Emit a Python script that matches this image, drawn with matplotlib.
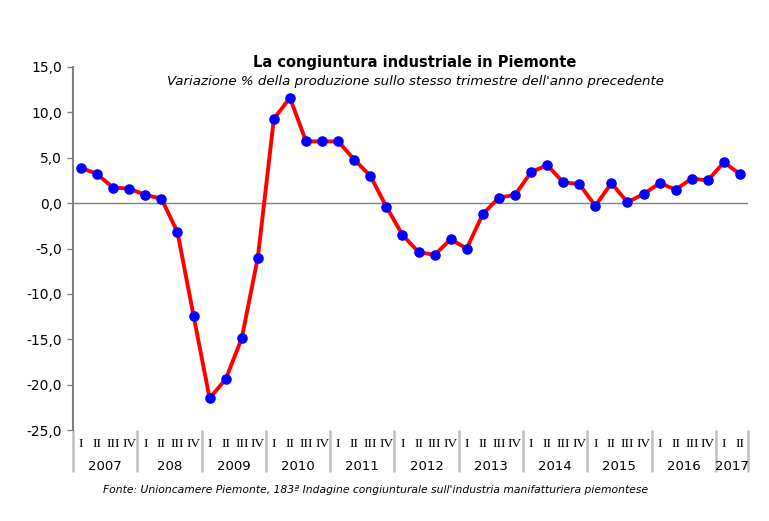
import matplotlib.pyplot as plt
import matplotlib.transforms as mtransforms

# dati trimestrali (variazione %)
years = ["2007", "208", "2009", "2010", "2011", "2012", "2013", "2014", "2015", "2016", "2017"]
quarters_per_year = [4, 4, 4, 4, 4, 4, 4, 4, 4, 4, 2]
quarter_names = ["I", "II", "III", "IV"]
values = [3.9, 3.2, 1.7, 1.6,
          0.9, 0.5, -3.2, -12.4,
          -21.5, -19.4, -14.9, -6.0,
          9.3, 11.6, 6.8, 6.8,
          6.8, 4.8, 3.0, -0.4,
          -3.5, -5.4, -5.7, -4.0,
          -5.0, -1.2, 0.6, 0.9,
          3.4, 4.2, 2.3, 2.1,
          -0.3, 2.2, 0.1, 1.0,
          2.2, 1.5, 2.7, 2.5,
          4.5, 3.2]

tick_labels = []
for n in quarters_per_year:
    tick_labels += quarter_names[:n]
x = list(range(len(values)))

fig = plt.figure(figsize=(7.69, 5.21), dpi=100)
ax = fig.add_axes([73 / 769, (521 - 430) / 521, (748 - 73) / 769, (430 - 67) / 521])

ax.axhline(0, color="#808080", lw=1, zorder=1)
ax.plot(x, values, color="#ff0000", lw=2.8, marker="o", markersize=6.6,
        markerfacecolor="#0000ff", markeredgecolor="#0000ff", zorder=3)

ax.set_xlim(-0.5, len(values) - 0.5)
ax.set_ylim(-25, 15)
yt = list(range(-25, 20, 5))
ax.set_yticks(yt)
ax.set_yticklabels([f"{v:.1f}".replace(".", ",") for v in yt], fontsize=10)
ax.tick_params(axis="y", length=4, width=1, color="#808080", pad=4)

ax.set_xticks(x)
ax.set_xticklabels(tick_labels, fontsize=9.5, family="Liberation Serif")
ax.tick_params(axis="x", length=0, pad=6)

for s in ["top", "right", "bottom"]:
    ax.spines[s].set_visible(False)
ax.spines["left"].set_color("#808080")
ax.spines["left"].set_linewidth(1.5)

# separatori e anni
trans = mtransforms.blended_transform_factory(ax.transData, ax.transAxes)
start = 0
bounds = [-0.5]
for yr, n in zip(years, quarters_per_year):
    mid = start + (n - 1) / 2
    ax.text(mid, -0.1, yr, transform=trans, ha="center", va="center", fontsize=9.5)
    start += n
    bounds.append(start - 0.5)
ax.vlines(bounds, -0.115, 0, transform=trans, colors="#c0c0c0", lw=1.8, clip_on=False)

fig.text(415 / 769, 1 - 63 / 521, "La congiuntura industriale in Piemonte",
         ha="center", va="center", fontsize=10.5, fontweight="bold")
fig.text(415 / 769, 1 - 81 / 521, "Variazione % della produzione sullo stesso trimestre dell'anno precedente",
         ha="center", va="center", fontsize=9.6, style="italic")
fig.text(103 / 769, 1 - 490 / 521,
         "Fonte: Unioncamere Piemonte, 183ª Indagine congiunturale sull'industria manifatturiera piemontese",
         ha="left", va="center", fontsize=7.75, style="italic")

fig.savefig("out.png", dpi=100)
